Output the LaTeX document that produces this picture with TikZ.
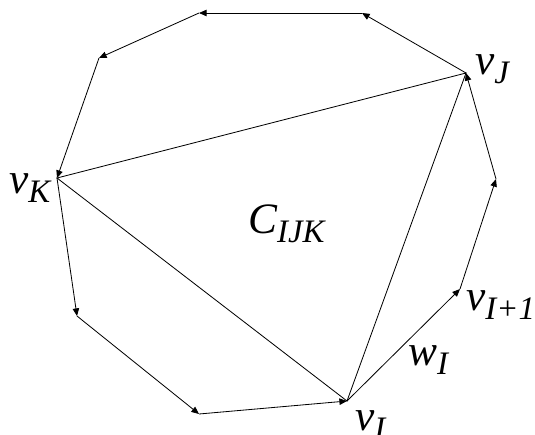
\documentclass[tikz,border=0pt]{standalone}
\usepackage{fontspec}
\setmainfont{Liberation Serif}
\usetikzlibrary{arrows.meta,positioning}
\newcommand{\lbsub}[1]{\raisebox{-8pt}{\fontsize{28}{28}\selectfont #1}}

\begin{document}
\begin{tikzpicture}[x=0.03cm,y=-0.03cm,>={Triangle[length=6.5pt,width=5.5pt]},
  edge/.style={line width=0.7pt},
  lbl/.style={font=\fontsize{37}{37}\selectfont\itshape,inner sep=0pt,anchor=base west}]
 \useasboundingbox (0,0) rectangle (535,434);
 % --- vertices of the polygon ---
 \coordinate (vI) at (347,401);
 \coordinate (vIa) at (460,289);
 \coordinate (p1) at (496,179);
 \coordinate (vJ) at (466,73);
 \coordinate (p2) at (362,13);
 \coordinate (p3) at (199,13);
 \coordinate (p4) at (99,58);
 \coordinate (vK) at (57,178);
 \coordinate (p5) at (77,316);
 \coordinate (p6) at (199,414);
 % --- boundary, oriented ---
 \foreach \a/\b in {vI/vIa,vIa/p1,p1/vJ,vJ/p2,p2/p3,p3/p4,p4/vK,vK/p5,p5/p6,p6/vI}
   \draw[edge,->] (\a) -- (\b);
 % --- triangle ---
 \draw[edge] (vI) -- (vJ) -- (vK) -- cycle;
 % --- labels ---
 \node[lbl] (lJ) at (475,74) {v\lbsub{J}};
 \node[lbl] (lK) at (9,193) {v\lbsub{K}};
 \node[lbl] (lC) at (248,233) {C\lbsub{IJK}};
 \node[lbl] (lIa) at (466,310) {v\lbsub{I+1}};
 \node[lbl] (lw) at (408,365) {w\lbsub{I}};
 \node[lbl] (lI) at (355,430) {v\lbsub{I}};
\end{tikzpicture}
\end{document}
